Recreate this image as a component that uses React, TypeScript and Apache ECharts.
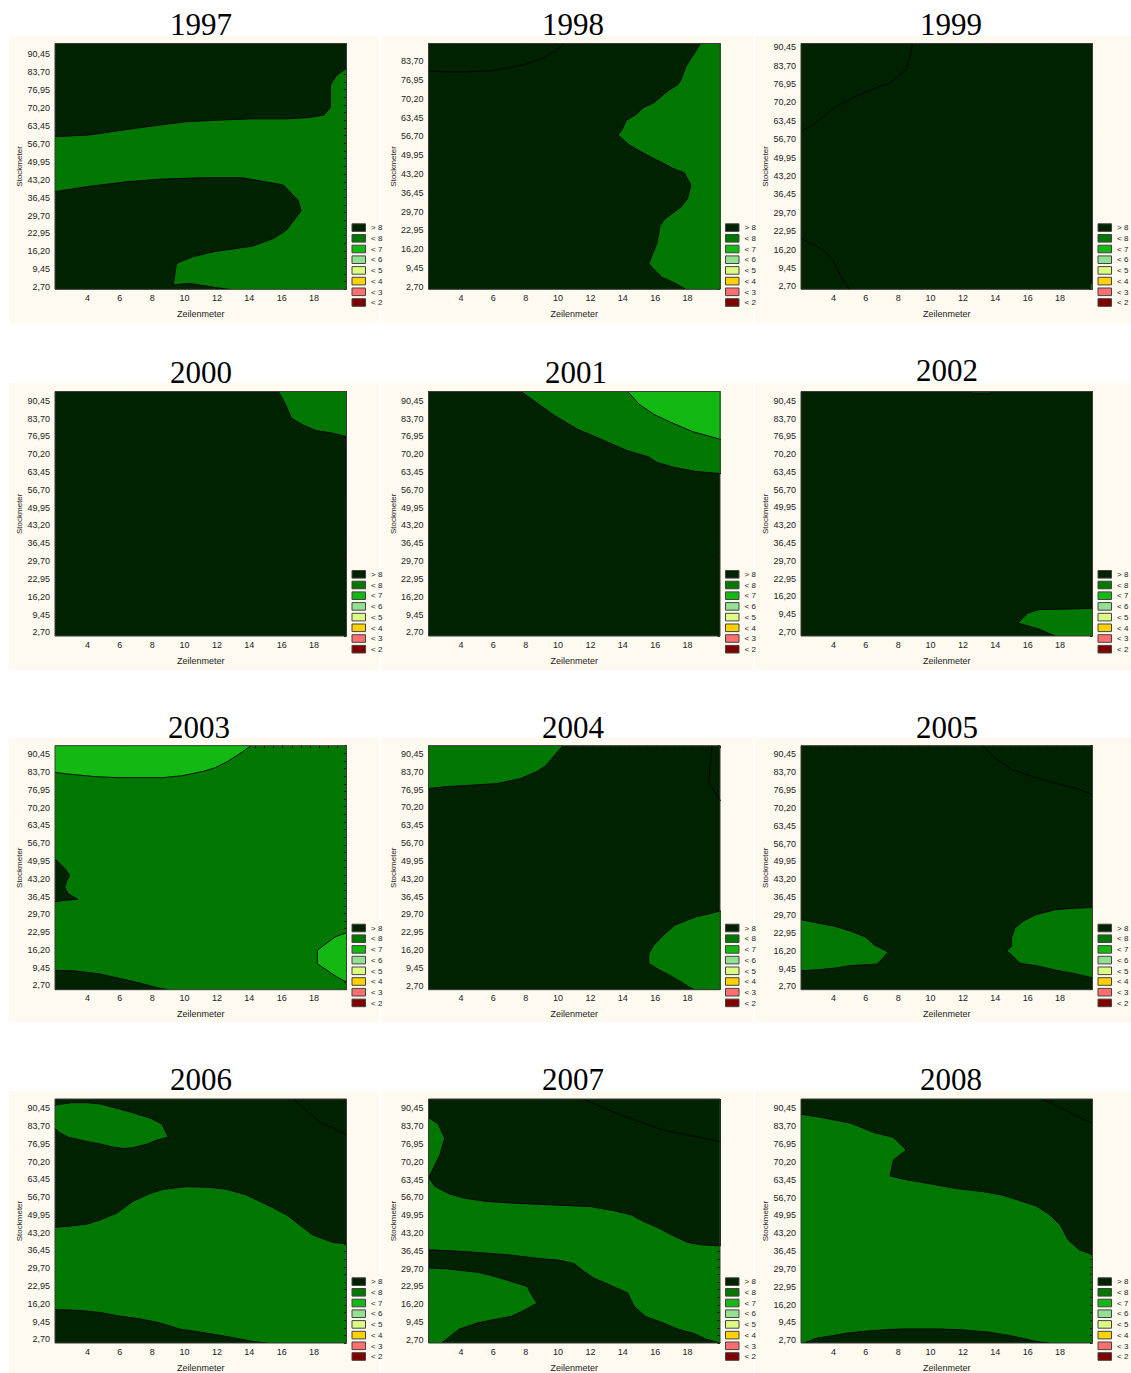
import { useEffect, useRef } from 'react';
import * as echarts from 'echarts';

// ---------- data ----------
const years = ['1997', '1998', '1999', '2000', '2001', '2002', '2003', '2004', '2005', '2006', '2007', '2008'];
const xTickValues = [4, 6, 8, 10, 12, 14, 16, 18];
const yTickValues = [2.7, 9.45, 16.2, 22.95, 29.7, 36.45, 43.2, 49.95, 56.7, 63.45, 70.2, 76.95, 83.7, 90.45];
const legendLabels = ['> 8', '< 8', '< 7', '< 6', '< 5', '< 4', '< 3', '< 2'];
const legendColors = ['#012201', '#007800', '#13b813', '#93e093', '#dcfc84', '#fed200', '#ff6f6f', '#800000'];
const xMin = 2;
const xMax = 20;
const yMin = [1.95, 1.74, 1.6, 1.31, 1.31, 1.18, 1.05, 1.18, 1.44, 1.31, 1.44, 1.69];
const yMax = [94.45, 90.08, 91.8, 93.96, 93.99, 93.96, 93.75, 93.6, 93.7, 94.0, 94.0, 94.0];
// class of the background fill of each panel (index into legend)
const baseClass = [1, 0, 0, 0, 0, 0, 1, 0, 0, 1, 1, 1];

// contour regions [Zeilenmeter, Stockmeter]
const p1997DarkTop = [[2, 59.4], [4.1, 60.0], [6.2, 61.9], [8.5, 63.8], [10.1, 65.0], [12.0, 65.6], [14.2, 66.1], [16.3, 66.1], [17.7, 66.6], [18.6, 67.5], [19.0, 70.4], [19.0, 78.8], [19.4, 82.6], [20, 85.1], [21, 85.1], [21, 100], [1, 100], [1, 59.4]];
const p1997DarkLow = [[2, 38.7], [4.0, 40.6], [6.4, 42.4], [8.5, 43.4], [11.0, 43.9], [13.6, 43.9], [16.1, 41.2], [17.0, 35.5], [17.2, 31.5], [16.3, 24.3], [15.5, 21.1], [14.2, 18.2], [11.8, 16.1], [10.5, 14.2], [9.5, 11.7], [9.3, 3.6], [10.3, 4.2], [11.8, 2.7], [12.8, 1.9], [13, 0], [1, 0], [1, 38.7]];
const p1998Green = [[18.8, 90.1], [18.5, 87.3], [17.9, 81.9], [17.6, 77.1], [17.4, 75.3], [16.9, 73.5], [16.5, 71.7], [15.9, 68.7], [15.3, 67.2], [14.8, 64.5], [14.2, 62.4], [14.0, 59.6], [13.7, 57.2], [14.4, 53.6], [15.3, 50.6], [16.5, 47.0], [17.1, 45.2], [17.8, 43.6], [18.2, 39.2], [18.0, 34.4], [17.6, 31.4], [17.1, 29.2], [16.6, 27.1], [16.3, 24.7], [16.1, 18.1], [15.8, 13.9], [15.6, 10.9], [16.1, 7.9], [16.4, 6.1], [17.1, 4.3], [17.9, 1.7], [18.1, 0], [21, 0], [21, 100], [18.8, 100]];
const p1999Green = [[19.85, 0], [19.85, 3.5], [20.5, 6], [21, 6], [21, 0]];
const p2000Green = [[15.8, 94], [16.2, 89.5], [16.6, 83.9], [17.3, 81.3], [18.1, 79.2], [19.1, 78.2], [20, 76.9], [21, 76.9], [21, 100], [15.8, 100]];
const p2001Green = [[7.7, 94], [8.5, 90.5], [9.8, 84.8], [11.2, 79.7], [12.5, 76.3], [14.3, 71.5], [15.6, 69.2], [16.1, 67.1], [17.2, 65.2], [18.5, 63.7], [20, 62.9], [21, 62.9], [21, 100], [7.7, 100]];
const p2001Bright = [[14.3, 94], [15.0, 89.2], [15.9, 85.4], [17.0, 82.2], [18.3, 78.8], [20, 75.9], [21, 75.9], [21, 100], [14.3, 100]];
const p2002Green = [[20, 11.7], [18.5, 11.4], [16.7, 11.2], [16.0, 9.9], [15.4, 6.1], [16.7, 3.8], [17.7, 1.2], [17.8, 0], [21, 0], [21, 11.7]];
const p2002GreenTop = [[12.5, 100], [12.5, 93.4], [13.7, 93.4], [13.7, 100]];
const p2003BrightTop = [[2, 83.6], [2.8, 83.0], [4.5, 82.0], [5.9, 81.6], [8.6, 81.6], [9.8, 82.3], [11.1, 83.9], [11.9, 85.4], [12.7, 87.9], [13.6, 91.5], [14.1, 93.75], [14.2, 100], [1, 100], [1, 83.6]];
const p2003DarkLeft = [[2, 50.6], [2.3, 49.0], [2.6, 47.1], [2.9, 44.6], [2.7, 42.0], [2.6, 40.1], [2.8, 37.6], [3.4, 35.4], [2.6, 35.0], [2, 34.4], [1, 34.4], [1, 50.6]];
const p2003DarkLow = [[2, 8.4], [3.2, 8.2], [4.7, 7.1], [6.1, 5.2], [7.4, 3.3], [8.4, 1.7], [9.0, 1.05], [9.1, 0], [1, 0], [1, 8.4]];
const p2003BrightRight = [[20, 22.7], [19.3, 21.1], [18.6, 17.9], [18.2, 16.0], [18.2, 10.9], [18.8, 8.4], [19.4, 5.9], [20, 4.0], [21, 4.0], [21, 22.7]];
const p2004GreenTop = [[2, 77.4], [3.1, 78.1], [4.8, 78.7], [6.3, 79.3], [7.7, 81.2], [8.7, 83.8], [9.3, 86.3], [9.7, 89.4], [10.3, 93.6], [10.4, 100], [1, 100], [1, 77.4]];
const p2004GreenRight = [[20, 31.0], [19.4, 30.0], [18.5, 28.8], [17.2, 25.6], [16.5, 21.8], [15.9, 18.0], [15.6, 14.8], [15.6, 11.1], [16.3, 8.5], [17.2, 5.6], [18.0, 2.6], [18.4, 1.2], [18.5, 0], [21, 0], [21, 31]];
const p2005GreenLeft = [[2, 27.9], [3.1, 26.6], [4.1, 25.4], [5.1, 23.5], [6.0, 21.3], [6.5, 18.4], [7.1, 16.6], [7.4, 15.7], [7.1, 13.7], [6.7, 11.1], [5.1, 10.6], [4.1, 9.6], [3.1, 9.0], [2, 8.6], [1, 8.6], [1, 27.9]];
const p2005GreenRight = [[20, 32.5], [19.0, 32.3], [17.7, 31.7], [16.5, 29.8], [15.7, 27.3], [15.2, 24.7], [15.0, 21.0], [15.0, 17.8], [14.7, 16.2], [15.1, 14.0], [15.5, 11.5], [16.7, 10.3], [17.9, 8.6], [19.0, 7.4], [20, 5.9], [21, 5.9], [21, 32.5]];
const p2006DarkTop = [[2, 45.3], [2.7, 45.6], [4.0, 46.5], [4.8, 48.1], [5.8, 50.6], [6.8, 55.1], [7.9, 58.2], [8.7, 59.7], [10.1, 60.7], [11.4, 60.5], [12.6, 59.7], [13.8, 57.6], [15.1, 53.8], [16.3, 50.0], [17.1, 46.2], [17.9, 42.4], [18.8, 40.3], [19.2, 39.5], [20, 39.0], [21, 39], [21, 100], [1, 100], [1, 45.3]];
const p2006GreenBlob = [[2, 91.7], [3.0, 92.6], [4.0, 92.6], [4.8, 92.1], [5.8, 90.5], [6.8, 88.8], [7.9, 86.7], [8.6, 84.5], [9.0, 79.5], [8.3, 78.4], [7.7, 76.9], [6.8, 75.5], [6.3, 75.2], [5.6, 75.7], [4.8, 76.9], [4.0, 77.8], [2.8, 79.5], [2.2, 81.6], [2, 82.9], [1, 82.9], [1, 91.7]];
const p2006DarkLow = [[2, 14.0], [3.5, 13.7], [4.8, 12.9], [5.8, 11.7], [7.3, 10.4], [8.5, 8.9], [9.7, 6.6], [11.0, 5.4], [12.6, 3.8], [14.2, 1.9], [15.1, 1.3], [15.2, 0], [1, 0], [1, 14]];
const p2007DarkTop = [[2, 64.3], [2.4, 60.8], [3.3, 58.0], [4.2, 56.4], [5.6, 55.1], [7.3, 54.5], [9.7, 53.8], [12.0, 53.2], [13.4, 51.7], [14.5, 50.1], [15.3, 47.5], [16.1, 45.4], [17.0, 42.5], [18.0, 39.6], [18.8, 38.7], [20, 38.3], [21, 38.3], [21, 100], [1, 100], [1, 64.3]];
const p2007GreenSliver = [[2, 87.0], [2.6, 84.5], [3.0, 79.1], [2.7, 72.8], [2.4, 69.0], [2.1, 65.2], [2, 64.3], [1, 64.3], [1, 87]];
const p2007DarkLow = [[2, 36.8], [3.1, 36.5], [5.0, 35.8], [6.9, 34.9], [8.7, 33.6], [10.1, 32.8], [11.0, 31.5], [11.6, 28.6], [12.2, 26.1], [13.4, 22.9], [14.3, 20.4], [14.7, 15.3], [15.4, 11.5], [16.5, 9.0], [17.4, 6.7], [18.4, 5.0], [19.1, 3.0], [20, 1.4], [21, 1.4], [21, 0], [1, 0], [1, 36.8]];
const p2007GreenLobe = [[2, 29.9], [3.1, 29.6], [5.0, 28.3], [5.8, 27.2], [6.9, 25.2], [8.1, 22.9], [8.3, 20.4], [8.7, 16.6], [7.9, 13.8], [7.1, 11.5], [6.0, 10.3], [5.0, 9.0], [3.9, 6.7], [2.8, 1.4], [2.7, 0], [1, 0], [1, 29.9]];
const p2008DarkTop = [[2, 88.2], [3.2, 87.1], [4.3, 85.8], [5.1, 84.8], [5.7, 83.3], [6.5, 81.3], [7.7, 79.5], [8.5, 74.7], [7.7, 70.9], [7.5, 64.9], [8.4, 63.6], [9.8, 62.1], [11.5, 60.2], [13.2, 59.0], [14.4, 57.7], [15.4, 55.8], [16.5, 53.6], [17.3, 50.5], [18.0, 46.4], [18.5, 40.7], [19.2, 36.9], [20, 35.1], [21, 35.1], [21, 100], [1, 100], [1, 88.2]];
const p2008DarkLow = [[2.0, 1.2], [3.0, 3.6], [4.1, 4.6], [4.9, 5.5], [5.9, 6.1], [7.2, 6.7], [8.2, 7.0], [10.5, 7.0], [11.9, 6.7], [13.6, 5.8], [14.8, 4.6], [15.6, 3.6], [16.5, 2.3], [17.3, 1.7], [17.4, 0], [2.0, 0]];

// extra contour lines (same class on both sides)
const l1998 = [[2, 80.1], [3.1, 79.9], [4.4, 79.9], [6.2, 80.5], [7.9, 82.5], [9.1, 84.9], [9.9, 87.7], [10.4, 90.1], [10.6, 92]];
const l1999a = [[2, 59.5], [2.9, 62.6], [4.0, 68.1], [5.6, 73.0], [6.6, 75.5], [7.5, 77.3], [8.0, 79.8], [8.5, 82.5], [8.7, 86.5], [8.9, 91.8], [8.95, 93]];
const l1999b = [[2, 20.3], [2.8, 17.8], [3.4, 16.0], [4.0, 12.0], [4.5, 5.9], [5.0, 1.6], [5.1, 0.5]];
const l2004 = [[19.5, 95], [19.5, 93.6], [19.4, 86.3], [19.3, 79.3], [19.6, 76.8], [20, 73.0], [20.5, 71]];
const l2005 = [[13.0, 95], [13.2, 93.7], [14.0, 88.9], [15.1, 84.5], [16.3, 82.0], [17.7, 79.5], [19.0, 77.6], [20, 75.1], [20.5, 74]];
const l2006 = [[16.5, 96], [16.7, 94], [17.5, 89.8], [18.4, 84.8], [19.2, 82.9], [20, 80.3], [20.5, 79.5]];
const l2007 = [[11.4, 96], [11.6, 94], [12.6, 91.1], [13.9, 87.9], [15.3, 84.8], [16.5, 82.2], [18.0, 80.4], [20, 77.8], [20.5, 77.5]];
const l2008 = [[16.6, 95], [16.9, 94], [18.1, 90.5], [19.1, 87.3], [20, 84.8], [20.5, 83.5]];

type Area = { cls: number; pts: number[][] };
const panelAreas: Area[][] = [
  [{ cls: 0, pts: p1997DarkTop }, { cls: 0, pts: p1997DarkLow }],
  [{ cls: 1, pts: p1998Green }],
  [{ cls: 1, pts: p1999Green }],
  [{ cls: 1, pts: p2000Green }],
  [{ cls: 1, pts: p2001Green }, { cls: 2, pts: p2001Bright }],
  [{ cls: 1, pts: p2002Green }, { cls: 1, pts: p2002GreenTop }],
  [{ cls: 2, pts: p2003BrightTop }, { cls: 0, pts: p2003DarkLeft }, { cls: 0, pts: p2003DarkLow }, { cls: 2, pts: p2003BrightRight }],
  [{ cls: 1, pts: p2004GreenTop }, { cls: 1, pts: p2004GreenRight }],
  [{ cls: 1, pts: p2005GreenLeft }, { cls: 1, pts: p2005GreenRight }],
  [{ cls: 0, pts: p2006DarkTop }, { cls: 1, pts: p2006GreenBlob }, { cls: 0, pts: p2006DarkLow }],
  [{ cls: 0, pts: p2007DarkTop }, { cls: 1, pts: p2007GreenSliver }, { cls: 0, pts: p2007DarkLow }, { cls: 1, pts: p2007GreenLobe }],
  [{ cls: 0, pts: p2008DarkTop }, { cls: 0, pts: p2008DarkLow }],
];
const panelLines: number[][][][] = [[], [l1998], [l1999a, l1999b], [], [], [], [], [l2004], [l2005], [l2006], [l2007], [l2008]];

// ---------- layout ----------
const colLeft = [55, 428.5, 801];
const plotWidth = 291.5;
const rowTop = [43.5, 391.5, 745.7, 1099];
const plotHeight = [245.8, 244.5, 244, 244.3];
const creamX = [[9, 379], [382, 753], [755, 1131]];
const creamY = [[36, 323], [383, 670], [738, 1022], [1091, 1373]];
const titlePos = [[201, 24], [573, 24], [951, 24], [201, 372], [576, 372], [947, 370], [199, 727], [573, 727], [947, 727], [201, 1079], [573, 1079], [951, 1079]];
const gridDivisions = 32; // small frame ticks on top / right edges

const SANS = 'Liberation Sans, Arial, sans-serif';
const LINE = '#000000';

function buildOption() {
  const grid: any[] = [];
  const xAxis: any[] = [];
  const yAxis: any[] = [];
  const series: any[] = [];
  const graphic: any[] = [];

  for (let r = 0; r < 4; r++) {
    for (let c = 0; c < 3; c++) {
      graphic.push({
        type: 'rect', z: -10,
        shape: { x: creamX[c][0], y: creamY[r][0], width: creamX[c][1] - creamX[c][0], height: creamY[r][1] - creamY[r][0] },
        style: { fill: '#fefaf0' },
      });
    }
  }

  const topTicks = Array.from({ length: gridDivisions + 1 }, (_, k) => xMin + (k * (xMax - xMin)) / gridDivisions);

  years.forEach((year, i) => {
    const r = Math.floor(i / 3);
    const c = i % 3;
    const left = colLeft[c];
    const top = rowTop[r];
    const h = plotHeight[r];
    const rightTicks = Array.from({ length: gridDivisions + 1 }, (_, k) => yMin[i] + (k * (yMax[i] - yMin[i])) / gridDivisions);
    grid.push({
      left, top, width: plotWidth, height: h,
      show: true, backgroundColor: legendColors[baseClass[i]], borderWidth: 0,
    });
    xAxis.push({
      gridIndex: i, type: 'value', min: xMin, max: xMax,
      axisLine: { show: false }, axisTick: { show: false }, splitLine: { show: false },
      axisLabel: { customValues: xTickValues, fontSize: 9, color: '#222', margin: 4, fontFamily: SANS },
      name: 'Zeilenmeter', nameLocation: 'middle', nameGap: 20,
      nameTextStyle: { fontSize: 9, color: '#222', fontFamily: SANS },
    });
    xAxis.push({
      gridIndex: i, type: 'value', min: xMin, max: xMax, position: 'top',
      axisLine: { show: false }, splitLine: { show: false }, axisLabel: { show: false },
      axisTick: { show: true, inside: true, length: 2.5, customValues: topTicks, lineStyle: { color: '#111', width: 1 } },
    });
    yAxis.push({
      gridIndex: i, type: 'value', min: yMin[i], max: yMax[i],
      axisLine: { show: false }, axisTick: { show: false }, splitLine: { show: false },
      axisLabel: {
        customValues: yTickValues.filter((v) => v >= yMin[i] && v <= yMax[i]),
        formatter: (v: number) => v.toFixed(2).replace('.', ','),
        fontSize: 9, color: '#222', margin: 5, fontFamily: SANS,
      },
      name: 'Stockmeter', nameLocation: 'middle', nameGap: 31, nameRotate: 90,
      nameTextStyle: { fontSize: 8, color: '#222', fontFamily: SANS },
    });
    yAxis.push({
      gridIndex: i, type: 'value', min: yMin[i], max: yMax[i], position: 'right',
      axisLine: { show: false }, splitLine: { show: false }, axisLabel: { show: false },
      axisTick: { show: true, inside: true, length: 2.5, customValues: rightTicks, lineStyle: { color: '#111', width: 1 } },
    });

    const xi = 2 * i;
    const yi = 2 * i;
    const items: any[] = [
      ...panelAreas[i].map((a) => ({ kind: 'area', cls: a.cls, pts: a.pts })),
      ...panelLines[i].map((l) => ({ kind: 'line', cls: 0, pts: l })),
    ];
    if (items.length) {
      series.push({
        type: 'custom', xAxisIndex: xi, yAxisIndex: yi, clip: true, silent: true, animation: false,
        data: items.map((it) => it.pts[0]),
        renderItem: (params: any, api: any) => {
          const it = items[params.dataIndex];
          const points = it.pts.map((p: number[]) => api.coord(p));
          if (it.kind === 'area') {
            return { type: 'polygon', shape: { points }, style: { fill: legendColors[it.cls], stroke: LINE, lineWidth: 0.9 } };
          }
          return { type: 'polyline', shape: { points }, style: { fill: null, stroke: LINE, lineWidth: 0.9 } };
        },
      });
    }
    // frame
    series.push({
      type: 'custom', xAxisIndex: xi, yAxisIndex: yi, clip: false, silent: true, animation: false, z: 5,
      data: [[xMin, yMin[i]]],
      renderItem: (_p: any, api: any) => {
        const a = api.coord([xMin, yMax[i]]);
        const b = api.coord([xMax, yMin[i]]);
        return { type: 'rect', shape: { x: a[0], y: a[1], width: b[0] - a[0], height: b[1] - a[1] }, style: { fill: null, stroke: '#3a3a3a', lineWidth: 1 } };
      },
    });

    // title
    graphic.push({
      type: 'text', x: titlePos[i][0], y: titlePos[i][1],
      style: { text: year, fontSize: 31, fontFamily: 'Liberation Serif, Times New Roman, serif', fill: '#000', align: 'center', verticalAlign: 'middle' },
    });
    // legend
    const lx = left + plotWidth + 5.5;
    const ly = top + h - 65.5;
    legendLabels.forEach((lab, k) => {
      graphic.push({
        type: 'rect', shape: { x: lx, y: ly + k * 10.7, width: 13.5, height: 7.6 },
        style: { fill: legendColors[k], stroke: '#444', lineWidth: 1 },
      });
      graphic.push({
        type: 'text', x: lx + 19, y: ly + k * 10.7 + 4,
        style: { text: lab, fontSize: 8, fontFamily: SANS, fill: '#222', align: 'left', verticalAlign: 'middle' },
      });
    });
  });

  return { animation: false, grid, xAxis, yAxis, series, graphic };
}

export default function App() {
  const ref = useRef<HTMLDivElement>(null);
  useEffect(() => {
    document.body.style.margin = '0';
    if (!ref.current) return;
    const chart = echarts.init(ref.current, null, { renderer: 'svg' });
    chart.setOption(buildOption() as any);
    return () => chart.dispose();
  }, []);
  return <div ref={ref} style={{ width: 1131, height: 1373, background: '#fff' }} />;
}
